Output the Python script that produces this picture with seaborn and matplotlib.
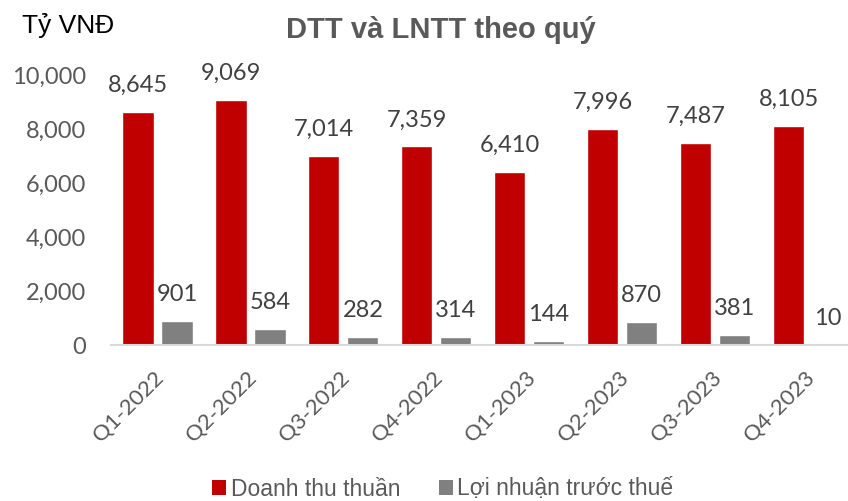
import matplotlib
matplotlib.use("Agg")
import matplotlib.pyplot as plt
import matplotlib.transforms as mtransforms
from matplotlib.patches import Patch
import seaborn as sns
import pandas as pd

quarters = ["Q1-2022", "Q2-2022", "Q3-2022", "Q4-2022",
            "Q1-2023", "Q2-2023", "Q3-2023", "Q4-2023"]
dtt = [8645, 9069, 7014, 7359, 6410, 7996, 7487, 8105]
lntt = [901, 584, 282, 314, 144, 870, 381, 10]
series_names = ["Doanh thu thuần", "Lợi nhuận trước thuế"]
colors = ["#C00000", "#808080"]
yticks = [0, 2000, 4000, 6000, 8000, 10000]

df = pd.DataFrame({
    "quarter": quarters * 2,
    "value": dtt + lntt,
    "series": [series_names[0]] * len(quarters) + [series_names[1]] * len(quarters),
})

sns.set_theme(style="white")
plt.rcParams["font.family"] = ["Lato", "DejaVu Sans"]

fig = plt.figure(figsize=(8.48, 5.01), dpi=100)
ax = fig.add_axes([111 / 848, 1 - 345 / 501, 1 - 111 / 848, (345 - 75) / 501])

sns.barplot(data=df, x="quarter", y="value", hue="series", order=quarters,
            hue_order=series_names, palette=colors, width=0.84, gap=0.2,
            saturation=1, legend=False, ax=ax)

ax.set_xlim(-0.5, 7.5 - 6.5 / 93)
ax.set_ylim(0, 10000)
ax.set_yticks(yticks)
ax.set_yticklabels([f"{v:,}" for v in yticks])
ax.set_xlabel("")
ax.set_ylabel("")
for s in ["top", "right", "left"]:
    ax.spines[s].set_visible(False)
ax.spines["bottom"].set_color("#D9D9D9")
ax.spines["bottom"].set_linewidth(1.5)
ax.tick_params(axis="y", length=0, pad=18, labelsize=17, labelcolor="#595959")
ax.tick_params(axis="x", length=0, pad=16, labelsize=16, labelcolor="#595959")
for lab in ax.get_xticklabels():
    lab.set_rotation(45)
    lab.set_ha("right")
    lab.set_va("top")
    lab.set_rotation_mode("anchor")
    lab.set_transform(lab.get_transform() + mtransforms.ScaledTranslation(-4 / 100, 0, fig.dpi_scale_trans))

for container in ax.containers:
    for bar in container:
        h = bar.get_height()
        ax.annotate(f"{int(round(h)):,}", xy=(bar.get_x() + bar.get_width() / 2, h),
                    xytext=(0, 19), textcoords="offset points", ha="center", va="center",
                    fontsize=17, color="#404040")

fig.text(441 / 848, 1 - 30 / 501, "DTT và LNTT theo quý", ha="center", va="center",
         fontsize=21, fontweight="bold", color="#595959", family=["Liberation Sans", "DejaVu Sans"])
fig.text(22 / 848, 1 - 26 / 501, "Tỷ VNĐ", ha="left", va="center",
         fontsize=19, color="black", family=["Liberation Sans", "DejaVu Sans"])

handles = [Patch(facecolor=c, edgecolor="none") for c in colors]
leg = fig.legend(handles, series_names, loc="center", bbox_to_anchor=(443 / 848, 1 - 489 / 501),
                 ncol=2, frameon=False, handlelength=0.6, handleheight=0.6,
                 handletextpad=0.2, columnspacing=1.7,
                 prop={"family": ["Liberation Sans", "DejaVu Sans"], "size": 16.5})
for t in leg.get_texts():
    t.set_color("#595959")

fig.savefig("out.png", dpi=100)
